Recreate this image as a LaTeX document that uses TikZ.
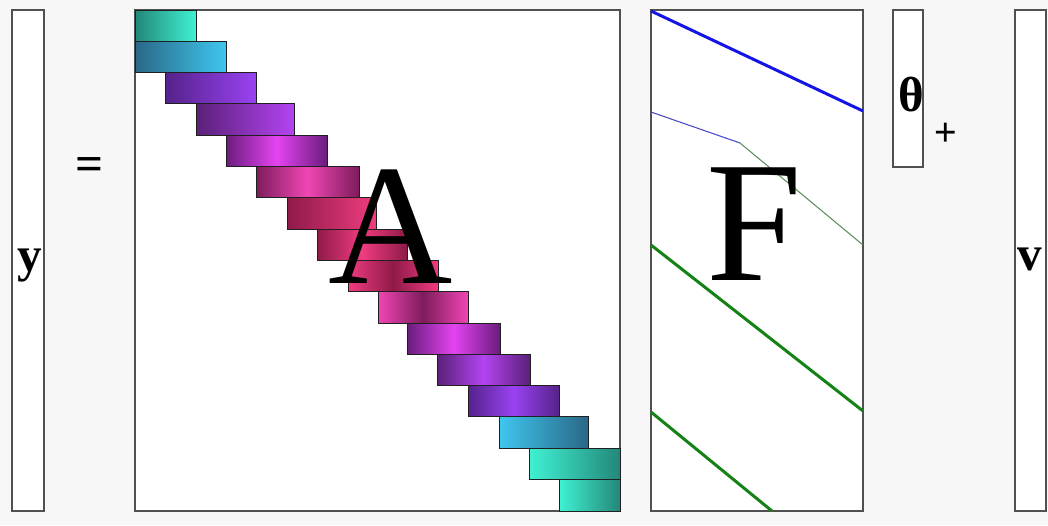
\documentclass[tikz,border=0pt]{standalone}
\usepackage{fontspec}
\setmainfont{Liberation Serif}
\newfontfamily\plusfont{Liberation Sans}
\usepackage{xcolor}
\definecolor{pagebg}{HTML}{F7F7F7}
\definecolor{panelgray}{HTML}{505050}
\definecolor{bandedge}{HTML}{202020}
\definecolor{bandteal}{HTML}{3FF2D2}
\definecolor{bandteald}{HTML}{23877A}
\definecolor{bandsky}{HTML}{3FC6EE}
\definecolor{bandskyd}{HTML}{2A6888}
\definecolor{bandviolet}{HTML}{9A42F2}
\definecolor{bandvioletd}{HTML}{55228A}
\definecolor{bandpurple}{HTML}{B444F2}
\definecolor{bandpurpled}{HTML}{5A2078}
\definecolor{bandmag}{HTML}{E444F0}
\definecolor{bandmagd}{HTML}{6A1C7E}
\definecolor{bandpink}{HTML}{F046B4}
\definecolor{bandpinkd}{HTML}{7E1C5C}
\definecolor{bandrose}{HTML}{F03C80}
\definecolor{bandrosed}{HTML}{8E1A48}
\definecolor{fblue}{HTML}{1414E6}
\definecolor{fthinblue}{HTML}{4A48C8}
\definecolor{fthingreen}{HTML}{5E8E5E}
\definecolor{fgreen}{HTML}{148214}
\usepackage{tikz}

\begin{document}
\begin{tikzpicture}[x=0.02cm, y=-0.02cm,
  panel/.style={draw=panelgray, line width=0.85pt, fill=white},
  band/.style={draw=bandedge, line width=0.55pt},
  bigletter/.style={inner sep=0pt, anchor=base, font=\fontsize{98}{98}\selectfont},
  symb/.style={inner sep=0pt, anchor=base, font=\fontsize{28}{28}\selectfont\bfseries},
  thickline/.style={line width=1.7pt},
  thinline/.style={line width=0.6pt}
]
\fill[pagebg] (0,0) rectangle (1048,525);
\useasboundingbox (0,0) rectangle (1048,525);

\draw[panel] (12,10) rectangle (44,511);
\draw[panel] (135,10) rectangle (620,511);
\draw[panel] (651,10) rectangle (863,511);
\draw[panel] (893,10) rectangle (923,167);
\draw[panel] (1015,10) rectangle (1046,511);

% band of A
\draw[band, left color=bandteald, right color=bandteal] (135,10) rectangle (196,41.3);
\draw[band, left color=bandskyd, right color=bandsky] (135,41.3) rectangle (226,72.6);
\draw[band, left color=bandvioletd, right color=bandviolet] (165,72.6) rectangle (256,103.9);
\draw[band, left color=bandpurpled, right color=bandpurple] (196,103.9) rectangle (294,135.2);
\draw[band, left color=bandmagd, right color=bandmagd, middle color=bandmag] (226,135.2) rectangle (327,166.5);
\draw[band, left color=bandpinkd, right color=bandpinkd, middle color=bandpink] (256,166.5) rectangle (359,197.8);
\draw[band, left color=bandrosed, right color=bandrose] (287,197.8) rectangle (376,229.1);
\draw[band, left color=bandrosed, right color=bandrosed, middle color=bandrose] (317,229.1) rectangle (407,260.4);
\draw[band, left color=bandrose, right color=bandrose, middle color=bandrosed] (348,260.4) rectangle (438,291.7);
\draw[band, left color=bandpink, right color=bandpink, middle color=bandpinkd] (378,291.7) rectangle (468,323);
\draw[band, left color=bandmagd, right color=bandmagd, middle color=bandmag] (407,323) rectangle (500,354.3);
\draw[band, left color=bandpurpled, right color=bandpurpled, middle color=bandpurple] (437,354.3) rectangle (530,385.6);
\draw[band, left color=bandvioletd, right color=bandvioletd, middle color=bandviolet] (468,385.6) rectangle (559,416.9);
\draw[band, left color=bandsky, right color=bandskyd] (499,416.9) rectangle (588,448.2);
\draw[band, left color=bandteal, right color=bandteald] (529,448.2) rectangle (620,479.5);
\draw[band, left color=bandteal, right color=bandteald] (559,479.5) rectangle (620,511);

% curves of F
\draw[thickline, fblue] (651,11) -- (863,111);
\draw[thinline, fthinblue] (651,112) -- (740,143);
\draw[thinline, fthingreen] (740,143) -- (863,245);
\draw[thickline, fgreen] (651,245) -- (863,411);
\draw[thickline, fgreen] (651,412) -- (772,511);

\node[bigletter] (Alabel) at (391,283) {A};
\node[bigletter] (Flabel) at (754,280) {F};
\node[symb] (ylabel) at (30,271) {y};
\node[symb] (eqsign) at (89.5,180) {=};
\node[symb] (thetalabel) at (911,111) {θ};
\node[inner sep=0pt, font=\plusfont\fontsize{22}{22}\selectfont] (plussign) at (946,134) {+};
\node[symb] (vlabel) at (1030,270) {v};
\end{tikzpicture}
\end{document}
